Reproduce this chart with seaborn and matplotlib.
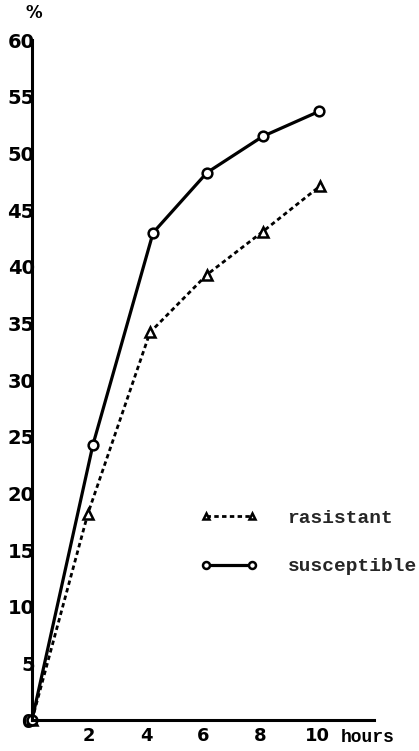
import matplotlib
matplotlib.use("Agg")
import matplotlib.pyplot as plt
import seaborn as sns
import pandas as pd

# Data
hours_resistant = [0, 1.96, 4.14, 6.14, 8.1, 10.1]
resistant = [0, 18.2, 34.2, 39.3, 43.1, 47.1]
hours_susceptible = [0, 2.14, 4.25, 6.14, 8.1, 10.07]
susceptible = [0, 24.3, 43.0, 48.3, 51.5, 53.7]

x_ticks = [2, 4, 6, 8, 10]
x_ticklabels = ["2", "4", "6", "8", "10"]
y_ticks = [0, 5, 10, 15, 20, 25, 30, 35, 40, 45, 50, 55, 60]

sns.set_theme(style="white")
plt.rcParams['font.family'] = ['DejaVu Sans']

W, H = 419, 751
fig = plt.figure(figsize=(W / 100, H / 100), dpi=100)
ax = fig.add_axes([32 / W, 1 - 720 / H, 342 / W, 680 / H])

df_r = pd.DataFrame({"hours": hours_resistant, "pct": resistant})
df_s = pd.DataFrame({"hours": hours_susceptible, "pct": susceptible})

sns.lineplot(data=df_r, x="hours", y="pct", ax=ax, color="black",
             linewidth=2.0, linestyle=(0, (1.6, 1.2)), marker="^",
             markersize=7, markerfacecolor="white", markeredgecolor="black",
             markeredgewidth=1.8, label="rasistant", clip_on=False)
sns.lineplot(data=df_s, x="hours", y="pct", ax=ax, color="black",
             linewidth=2.3, linestyle="-", marker="o",
             markersize=7, markerfacecolor="white", markeredgecolor="black",
             markeredgewidth=1.8, label="susceptible", clip_on=False)

ax.set_xlim(0, 12)
ax.set_ylim(0, 60)
ax.set_xticks(x_ticks)
ax.set_xticklabels(x_ticklabels)
ax.set_yticks(y_ticks)
ax.set_yticklabels([str(v) for v in y_ticks])
ax.set_xlabel("")
ax.set_ylabel("")

for s in ["top", "right"]:
    ax.spines[s].set_visible(False)
for s in ["left", "bottom"]:
    ax.spines[s].set_color("black")
    ax.spines[s].set_linewidth(2.2)

ax.tick_params(axis="y", direction="in", length=9, width=2, pad=-2,
               labelsize=14, colors="black")
ax.tick_params(axis="x", direction="in", length=4, width=2, pad=5,
               labelsize=13, colors="black")
for lab in ax.get_xticklabels() + ax.get_yticklabels():
    lab.set_fontweight("bold")

# extra axis texts
ax.text(0.05, 61.6, "%", ha="center", va="bottom", fontsize=12,
        fontweight="bold", color="black")
ax.text(10.85, -1.5, "hours", ha="left", va="center", fontsize=13,
        fontweight="bold", family="Liberation Mono", color="black")

leg = ax.legend(loc="upper left", bbox_to_anchor=(0.44, 0.336),
                frameon=False, numpoints=2, handlelength=3.0,
                labelspacing=1.6, handletextpad=1.5,
                prop={"family": "Liberation Mono", "weight": "bold", "size": 14})
for h in leg.get_lines():
    h.set_markersize(5)

fig.savefig("out.png", dpi=100, facecolor="white")
